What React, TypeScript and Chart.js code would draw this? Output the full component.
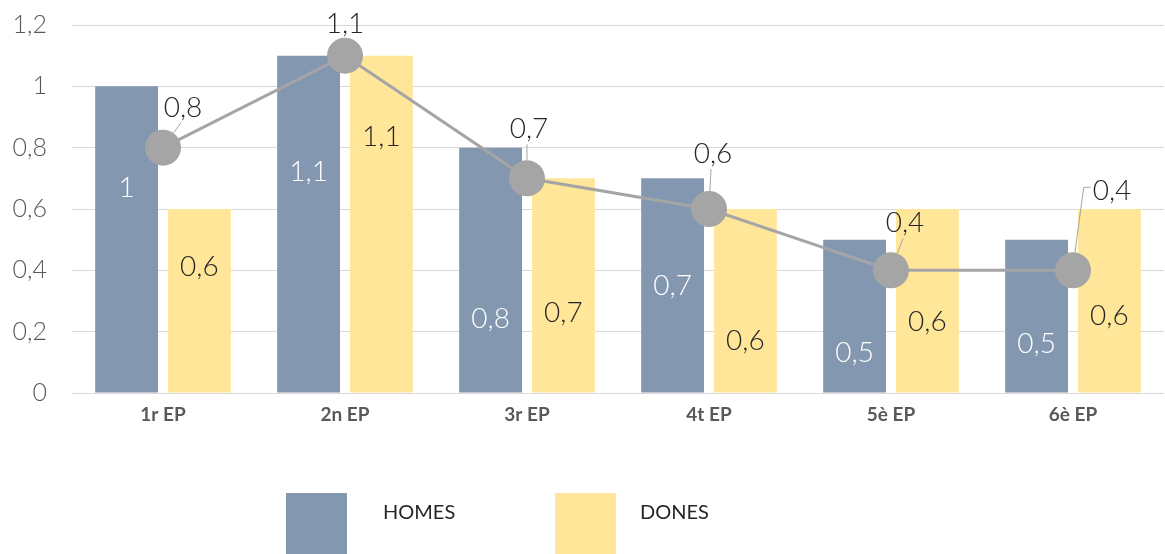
import React, { useEffect, useRef } from "react";
import { Chart, registerables } from "chart.js";

Chart.register(...registerables);

// ---- data ----
const CATEGORIES = ["1r EP", "2n EP", "3r EP", "4t EP", "5è EP", "6è EP"];
const HOMES = [1, 1.1, 0.8, 0.7, 0.5, 0.5];
const DONES = [0.6, 1.1, 0.7, 0.6, 0.6, 0.6];
const TOTAL = [0.8, 1.1, 0.7, 0.6, 0.4, 0.4];
const Y_MIN = 0;
const Y_MAX = 1.2;
const Y_STEP = 0.2;

// ---- label placement (kept apart from the data) ----
// value-axis position where each bar's label is centred
const HOMES_LABEL_AT = [0.67, 0.72, 0.24, 0.35, 0.13, 0.16];
const DONES_LABEL_AT = [0.41, 0.835, 0.26, 0.17, 0.23, 0.25];
// pixel offsets of the line labels from their points
const TOTAL_LABEL_DX = [20, 0, 2, 4, 14, 39];
const TOTAL_LABEL_DY = [-40, -32, -49, -55, -47, -79];

const COLOR_HOMES = "#8497B0";
const COLOR_DONES = "#FFE699";
const COLOR_LINE = "#A5A5A5";
const FONT = "Lato, 'Noto Sans', sans-serif";

const fmt = (v: number) => String(Math.round(v * 10) / 10).replace(".", ",");

const valueLabels = {
  id: "valueLabels",
  afterDatasetsDraw(chart: any) {
    const ctx = chart.ctx;
    const y = chart.scales.y;
    ctx.save();
    ctx.font = `300 28px ${FONT}`;
    ctx.textAlign = "center";
    ctx.textBaseline = "middle";

    chart.getDatasetMeta(0).data.forEach((el: any, i: number) => {
      ctx.fillStyle = "#ffffff";
      ctx.fillText(fmt(HOMES[i]), el.x, y.getPixelForValue(HOMES_LABEL_AT[i]));
    });
    chart.getDatasetMeta(1).data.forEach((el: any, i: number) => {
      ctx.fillStyle = "#262626";
      ctx.fillText(fmt(DONES[i]), el.x, y.getPixelForValue(DONES_LABEL_AT[i]));
    });

    const r = 18;
    chart.getDatasetMeta(2).data.forEach((el: any, i: number) => {
      const text = fmt(TOTAL[i]);
      const lx = el.x + TOTAL_LABEL_DX[i];
      const ly = el.y + TOTAL_LABEL_DY[i];
      const w = ctx.measureText(text).width;
      ctx.strokeStyle = COLOR_LINE;
      ctx.lineWidth = 1;
      if (Math.abs(TOTAL_LABEL_DX[i]) > w / 2 + 4) {
        ctx.beginPath();
        ctx.moveTo(el.x + 2, el.y - r);
        ctx.lineTo(lx - w / 2 - 9, ly - 4);
        ctx.lineTo(lx - w / 2 - 2, ly - 4);
        ctx.stroke();
      } else {
        const tx = lx - 2;
        const ty = ly + 15;
        const dx = tx - el.x;
        const dy = ty - el.y;
        const d = Math.hypot(dx, dy);
        if (d > r + 3) {
          ctx.beginPath();
          ctx.moveTo(el.x + (dx / d) * r, el.y + (dy / d) * r);
          ctx.lineTo(tx, ty);
          ctx.stroke();
        }
      }
      ctx.fillStyle = "#262626";
      ctx.fillText(text, lx, ly);
    });
    ctx.restore();
  },
};

const customLegend = {
  id: "customLegend",
  afterDraw(chart: any) {
    const ctx = chart.ctx;
    const items = [
      { label: chart.data.datasets[0].label, color: COLOR_HOMES, boxX: 286, textX: 383 },
      { label: chart.data.datasets[1].label, color: COLOR_DONES, boxX: 555, textX: 640 },
    ];
    ctx.save();
    ctx.font = `20px ${FONT}`;
    ctx.textAlign = "left";
    ctx.textBaseline = "middle";
    items.forEach((it) => {
      ctx.fillStyle = it.color;
      ctx.fillRect(it.boxX, 493, 61, 61);
      ctx.fillStyle = "#262626";
      ctx.fillText(it.label, it.textX, 513);
    });
    ctx.restore();
  },
};

export default function App() {
  const ref = useRef<HTMLCanvasElement | null>(null);

  useEffect(() => {
    if (!ref.current) return;
    const chart = new Chart(ref.current, {
      type: "bar",
      data: {
        labels: CATEGORIES,
        datasets: [
          {
            type: "bar",
            label: "HOMES",
            data: HOMES,
            backgroundColor: COLOR_HOMES,
            barPercentage: 0.863,
            categoryPercentage: 0.8,
            order: 1,
          },
          {
            type: "bar",
            label: "DONES",
            data: DONES,
            backgroundColor: COLOR_DONES,
            barPercentage: 0.863,
            categoryPercentage: 0.8,
            order: 1,
          },
          {
            type: "line",
            label: "TOTAL",
            data: TOTAL,
            borderColor: COLOR_LINE,
            borderWidth: 3,
            backgroundColor: COLOR_LINE,
            pointBackgroundColor: COLOR_LINE,
            pointBorderWidth: 0,
            pointRadius: 18,
            tension: 0,
            clip: false,
            order: 0,
          } as any,
        ],
      },
      options: {
        animation: false,
        responsive: false,
        devicePixelRatio: 1,
        layout: { autoPadding: false, padding: { top: 25, right: 1, bottom: 111, left: 0 } },
        plugins: {
          legend: { display: false },
          tooltip: { enabled: false },
        },
        scales: {
          x: {
            grid: { display: false },
            border: { display: false },
            ticks: {
              color: "#595959",
              padding: 2,
              font: { family: FONT, size: 19, weight: "bold" },
            },
            afterFit: (s: any) => {
              s.height = 50;
              s.paddingLeft = 0;
              s.paddingRight = 0;
            },
          },
          y: {
            min: Y_MIN,
            max: Y_MAX,
            grid: { color: "#d9d9d9", drawTicks: false },
            border: { display: false },
            ticks: {
              stepSize: Y_STEP,
              color: "#595959",
              padding: 25,
              font: { family: FONT, size: 25, weight: "300" },
              callback: (v: any) => fmt(Number(v)),
            },
            afterFit: (s: any) => {
              s.width = 72;
              s.paddingTop = 0;
              s.paddingBottom = 0;
            },
          },
        },
      } as any,
      plugins: [valueLabels, customLegend],
    });
    return () => chart.destroy();
  }, []);

  return (
    <div style={{ position: "fixed", left: 0, top: 0, width: 1165, height: 554, background: "#fff" }}>
      <canvas ref={ref} width={1165} height={554} style={{ display: "block" }} />
    </div>
  );
}
